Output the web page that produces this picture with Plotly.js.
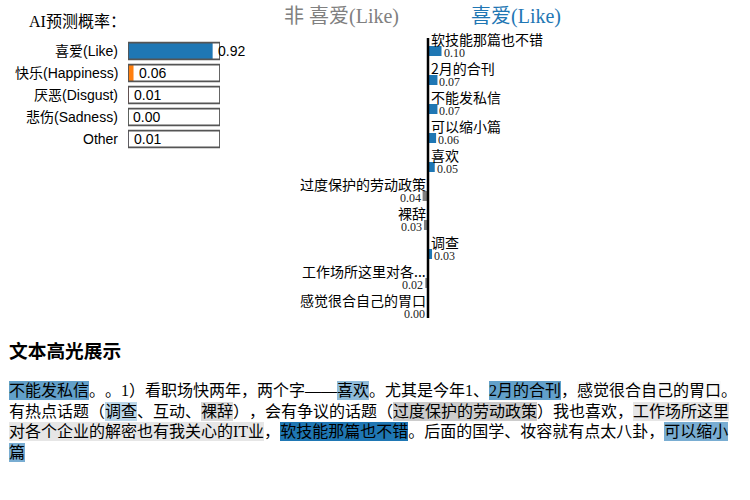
<!DOCTYPE html>
<html lang="zh-CN">
<head>
<meta charset="utf-8">
<script src="https://cdn.plot.ly/plotly-3.0.1.min.js"></script>
<style>
  * { text-spacing-trim: space-all; }
  html, body { margin: 0; padding: 0; background: #fff; }
  #chart { position: absolute; left: 0; top: 0; width: 750px; height: 330px; }
  #heading { position: absolute; left: 9px; top: 338px; font-family: "Noto Sans CJK SC", sans-serif; font-weight: bold; font-size: 18.72px; line-height: 24px; color: #000; }
  #para { position: absolute; left: 9px; top: 381px; width: 730px; font-family: "Liberation Serif", "Noto Sans CJK SC", serif; font-size: 16px; line-height: 20.7px; color: #000; }
  #para span { padding: 1px 0; }
</style>
</head>
<body>
<div id="chart"></div>
<div id="heading">文本高光展示</div>
<div id="para"></div>
<script>
// ---- data ----
const classes = ['喜爱(Like)', '快乐(Happiness)', '厌恶(Disgust)', '悲伤(Sadness)', 'Other'];
const probs = [0.92, 0.06, 0.01, 0.004, 0.006];
const features = ['软技能那篇也不错', '2月的合刊', '不能发私信', '可以缩小篇', '喜欢',
  '过度保护的劳动政策', '裸辞', '调查', '工作场所这里对各个企业的解密也有我关心的IT业', '感觉很合自己的胃口'];
const weights = [0.10, 0.07, 0.07, 0.06, 0.05, -0.04, -0.03, 0.03, -0.02, -0.004];
const posName = '喜爱(Like)';
const negName = '非 喜爱(Like)';
const docText = '不能发私信。。1）看职场快两年，两个字——喜欢。尤其是今年1、2月的合刊，感觉很合自己的胃口。有热点话题（调查、互动、裸辞），会有争议的话题（过度保护的劳动政策）我也喜欢，工作场所这里对各个企业的解密也有我关心的IT业，软技能那篇也不错。后面的国学、妆容就有点太八卦，可以缩小篇';

// ---- styles ----
const classColors = ['#1f77b4', '#ff7f0e', '#d62728', '#2ca02c', '#9467bd'];
const POS = '#1f77b4', NEG = '#808080';
const H = 330, W = 750;
const SANS = '"Liberation Sans", "Noto Sans CJK SC", sans-serif';
const CJK = '"Noto Sans CJK SC", sans-serif';
const SERIF = '"Liberation Serif", "Noto Sans CJK SC", serif';

const idxC = classes.map((_, i) => i);
const idxF = features.map((_, i) => i);

const traces = [
  { type: 'bar', orientation: 'h', x: probs, y: idxC, xaxis: 'x', yaxis: 'y',
    width: 0.77, marker: { color: classColors, line: { width: 0 } }, hoverinfo: 'skip' },
  { type: 'bar', orientation: 'h', x: probs.map(() => 1), y: idxC, xaxis: 'x', yaxis: 'y',
    width: 0.77, marker: { color: 'rgba(0,0,0,0)', line: { color: '#555', width: 1.8 } }, hoverinfo: 'skip' },
  { type: 'bar', orientation: 'h', x: weights, y: idxF, xaxis: 'x2', yaxis: 'y2',
    width: 0.345, marker: { color: weights.map(w => w >= 0 ? POS : NEG), line: { width: 0 } }, hoverinfo: 'skip' }
];

const annotations = [];
annotations.push({ xref: 'paper', yref: 'paper', x: 27 / W, y: 1 - 22 / H, xanchor: 'left', yanchor: 'middle',
  text: 'AI预测概率：', showarrow: false, font: { family: SERIF, size: 16, color: '#000' } });
annotations.push({ xref: 'paper', yref: 'paper', x: 341 / W, y: 1 - 16.5 / H, xanchor: 'center', yanchor: 'middle',
  text: negName, showarrow: false, font: { family: SERIF, size: 20, color: NEG } });
annotations.push({ xref: 'paper', yref: 'paper', x: 516 / W, y: 1 - 16.5 / H, xanchor: 'center', yanchor: 'middle',
  text: posName, showarrow: false, font: { family: SERIF, size: 20, color: POS } });

classes.forEach((c, i) => {
  annotations.push({ xref: 'paper', yref: 'y', x: 120 / W, y: i, xanchor: 'right', yanchor: 'middle',
    text: c, showarrow: false, font: { family: SANS, size: 14, color: '#000' } });
  annotations.push({ xref: 'x', yref: 'y', x: probs[i], y: i, xanchor: 'left', yanchor: 'middle', xshift: 3,
    text: probs[i].toFixed(2), showarrow: false, font: { family: SANS, size: 14, color: '#000' } });
});

features.forEach((f, i) => {
  const w = weights[i];
  const lab = f.length > 12 ? f.slice(0, 8) + '...' : f;
  annotations.push({ xref: 'x2', yref: 'y2', x: 0, y: i, xanchor: w >= 0 ? 'left' : 'right', yanchor: 'middle',
    xshift: w >= 0 ? 1 : 0, yshift: 12.5, text: lab, showarrow: false, font: { family: CJK, size: 14, color: '#000' } });
  annotations.push({ xref: 'x2', yref: 'y2', x: w, y: i, xanchor: w >= 0 ? 'left' : 'right', yanchor: 'middle',
    xshift: 0, yshift: -2, text: Math.abs(w).toFixed(2), showarrow: false,
    font: { family: SERIF, size: 12, color: '#222' } });
});

const hidden = { showgrid: false, zeroline: false, showticklabels: false, showline: false, ticks: '', fixedrange: true };

const layout = {
  width: W, height: H,
  margin: { l: 0, r: 0, t: 0, b: 0 },
  paper_bgcolor: '#fff', plot_bgcolor: 'rgba(0,0,0,0)',
  showlegend: false, barmode: 'overlay',
  xaxis: Object.assign({ domain: [128 / W, 220 / W], range: [0, 1] }, hidden),
  yaxis: Object.assign({ domain: [1 - 150 / H, 1 - 40 / H], range: [4.5, -0.5] }, hidden),
  xaxis2: Object.assign({ domain: [293 / W, 563 / W], range: [-1, 1], anchor: 'y2' }, hidden),
  yaxis2: Object.assign({ domain: [1 - 326.5 / H, 1 - 36.5 / H], range: [9.5, -0.5], anchor: 'x2' }, hidden),
  shapes: [{ type: 'line', xref: 'x2', yref: 'y2', x0: 0, x1: 0, y0: -0.448, y1: 9.207,
    line: { color: '#000', width: 2.5 } }],
  annotations: annotations
};

Plotly.newPlot('chart', traces, layout, { staticPlot: true, displayModeBar: false });

// ---- highlighted text ----
const maxW = Math.max(...weights.map(Math.abs));
function esc(s) { return s.replace(/&/g, '&amp;').replace(/</g, '&lt;'); }
const marks = [];
features.forEach((f, i) => {
  let p = docText.indexOf(f);
  if (p >= 0) marks.push({ s: p, e: p + f.length, w: weights[i] });
});
marks.sort((a, b) => a.s - b.s);
let html = '', cur = 0;
marks.forEach(m => {
  if (m.s < cur) return;
  html += esc(docText.slice(cur, m.s));
  const a = Math.abs(m.w) / maxW;
  const bg = m.w >= 0 ? `rgba(31,119,180,${a})` : `rgba(128,128,128,${a})`;
  html += `<span style="background:${bg}">${esc(docText.slice(m.s, m.e))}</span>`;
  cur = m.e;
});
html += esc(docText.slice(cur));
document.getElementById('para').innerHTML = html;
</script>
</body>
</html>
